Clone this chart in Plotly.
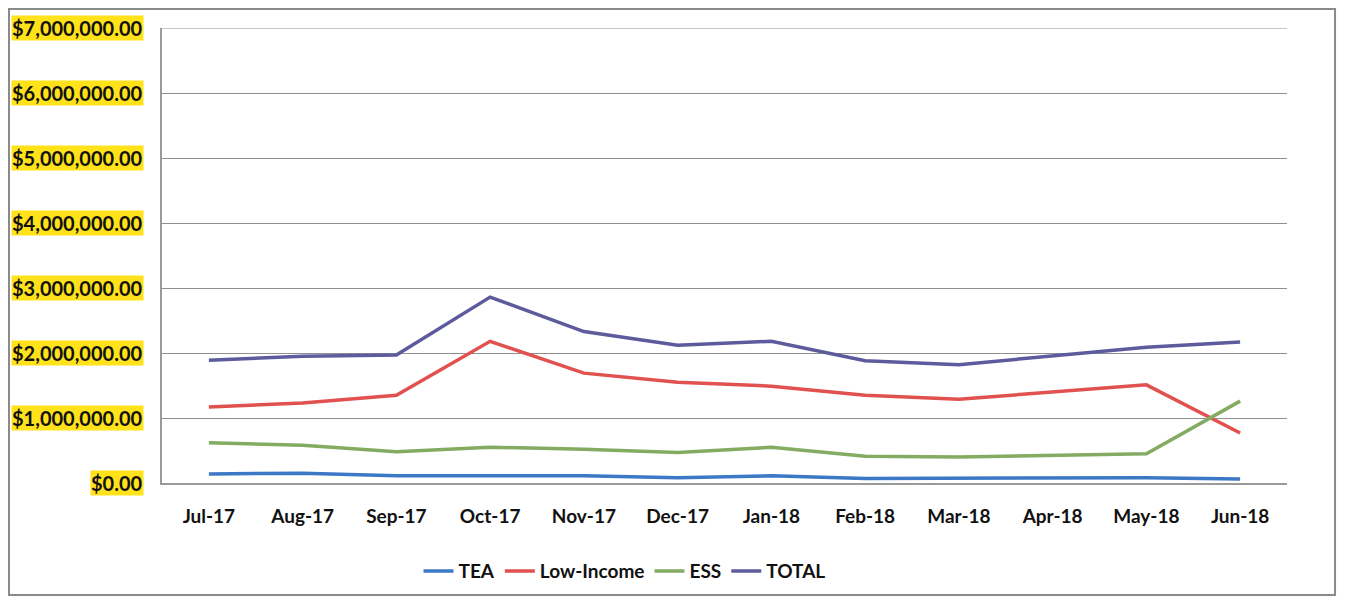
import plotly.graph_objects as go

months = ["Jul-17", "Aug-17", "Sep-17", "Oct-17", "Nov-17", "Dec-17",
          "Jan-18", "Feb-18", "Mar-18", "Apr-18", "May-18", "Jun-18"]

tea = [140000, 150000, 110000, 110000, 110000, 80000,
       110000, 70000, 70000, 70000, 80000, 60000]
low_income = [1170000, 1230000, 1350000, 2180000, 1690000, 1550000,
              1490000, 1350000, 1290000, 1400000, 1510000, 770000]
ess = [620000, 580000, 480000, 550000, 520000, 470000,
       550000, 410000, 400000, 430000, 450000, 1260000]
total = [1890000, 1950000, 1970000, 2860000, 2330000, 2120000,
         2180000, 1880000, 1820000, 1950000, 2090000, 2170000]

y_ticks = [0, 1000000, 2000000, 3000000, 4000000, 5000000, 6000000, 7000000]
y_tick_labels = ["$0.00", "$1,000,000.00", "$2,000,000.00", "$3,000,000.00",
                 "$4,000,000.00", "$5,000,000.00", "$6,000,000.00", "$7,000,000.00"]

series = [
    ("TEA", tea, "#3d78c6"),
    ("Low-Income", low_income, "#e0514f"),
    ("ESS", ess, "#83ab62"),
    ("TOTAL", total, "#5d5b9c"),
]

fig = go.Figure()
for name, vals, color in series:
    fig.add_trace(go.Scatter(x=months, y=vals, mode="lines", name=name,
                             line=dict(color=color, width=3.5)))

# yellow highlighted y tick labels
for val, label in zip(y_ticks, y_tick_labels):
    fig.add_annotation(x=-0.016, xref="paper", y=val, yref="y",
                       text=label, showarrow=False, xanchor="right",
                       font=dict(family="Lato", size=20, color="#111111", weight="bold"),
                       bgcolor="#ffe21a", borderpad=0)

# outer chart border (page body adds an 8px margin, figure is sized to fit)
fig.add_shape(type="rect", xref="paper", yref="paper",
              x0=-0.136, x1=1.0427, y0=-0.246, y1=1.0418,
              line=dict(color="#8a8a8a", width=2))

fig.update_layout(
    width=1329, height=589,
    margin=dict(l=154, r=50, t=20, b=114),
    paper_bgcolor="white", plot_bgcolor="white",
    font=dict(family="Lato", color="#111111"),
    showlegend=True,
    legend=dict(orientation="h", x=0.228, xanchor="left",
                yref="container", y=0.044, yanchor="middle",
                font=dict(family="Lato", size=19, weight="bold"),
                tracegroupgap=0),
    xaxis=dict(type="category", range=[-0.5, 11.5], showgrid=False,
               showline=True, linecolor="#9a9a9a", linewidth=1.5,
               tickfont=dict(family="Lato", size=19, weight="bold"),
               ticks="", ticklabelstandoff=15),
    yaxis=dict(range=[0, 7000000], tickvals=y_ticks, showticklabels=False,
               showgrid=True, gridcolor="#8f8f8f", gridwidth=1,
               showline=True, linecolor="#9a9a9a", linewidth=1.5,
               zeroline=False, mirror=False),
)
fig.add_shape(type="line", xref="paper", yref="y", x0=0, x1=1, y0=7000000, y1=7000000,
              line=dict(color="#8f8f8f", width=1))

fig.write_html("out.html")
